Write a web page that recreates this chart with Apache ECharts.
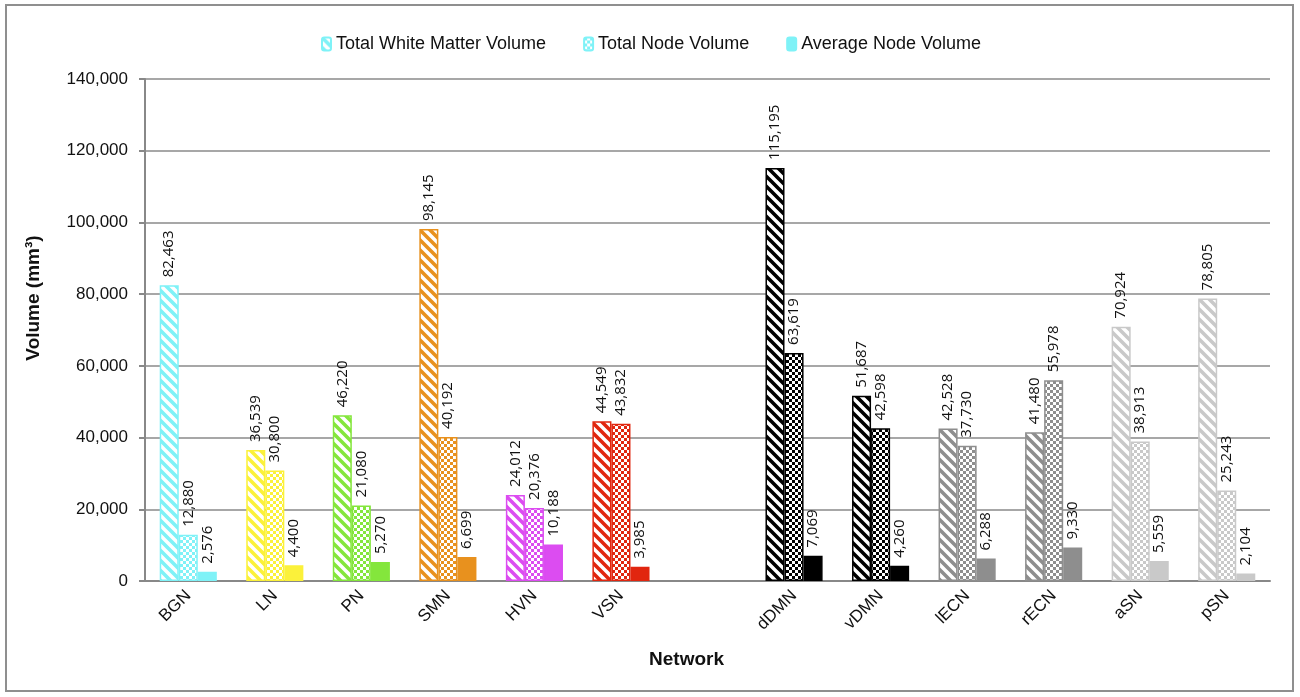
<!DOCTYPE html>
<html>
<head>
<meta charset="utf-8">
<script src="https://cdn.jsdelivr.net/npm/echarts@6/dist/echarts.min.js"></script>
<style>html,body{margin:0;padding:0;background:#fff}#c{width:1300px;height:697px}</style>
</head>
<body>
<div id="c"></div>
<script>
const categories = ['BGN','LN','PN','SMN','HVN','VSN','','dDMN','vDMN','lECN','rECN','aSN','pSN'];
const whiteMatterVolume = [82463,36539,46220,98145,24012,44549,null,115195,51687,42528,41480,70924,78805];
const totalNodeVolume = [12880,30800,21080,40192,20376,43832,null,63619,42598,37730,55978,38913,25243];
const averageNodeVolume = [2576,4400,5270,6699,10188,3985,null,7069,4260,6288,9330,5559,2104];
const seriesNames = ['Total White Matter Volume','Total Node Volume','Average Node Volume'];
const yTicks = [0,20000,40000,60000,80000,100000,120000,140000];
const networkColors = ['#7ff2f7','#fbf13a','#84e63c','#e8911e','#dc4cf1','#e1260f','#ffffff','#000000','#000000','#8e8e8e','#8e8e8e','#c9c9c9','#c9c9c9'];

function stripePattern(color){
  const s = 10, c = document.createElement('canvas');
  c.width = s; c.height = s;
  const g = c.getContext('2d');
  g.fillStyle = '#fff'; g.fillRect(0,0,s,s);
  g.strokeStyle = color; g.lineWidth = 3.6;
  g.beginPath();
  g.moveTo(0,0); g.lineTo(s,s);
  g.moveTo(0,-s); g.lineTo(2*s,s);
  g.moveTo(-s,0); g.lineTo(s,2*s);
  g.stroke();
  return {image: c, repeat: 'repeat'};
}
function checkerPattern(color){
  const q = 3, c = document.createElement('canvas');
  c.width = 2*q; c.height = 2*q;
  const g = c.getContext('2d');
  g.fillStyle = '#fff'; g.fillRect(0,0,2*q,2*q);
  g.fillStyle = color;
  g.fillRect(0,0,q,q); g.fillRect(q,q,q,q);
  return {image: c, repeat: 'repeat'};
}
const makers = [stripePattern, checkerPattern, c => c];
const valuesList = [whiteMatterVolume, totalNodeVolume, averageNodeVolume];

const fmt = v => Number(v).toLocaleString('en-US');

const series = valuesList.map((vals, si) => ({
  name: seriesNames[si],
  type: 'bar',
  barGap: '0%',
  barCategoryGap: '34%',
  itemStyle: {color: makers[si](networkColors[0]), borderColor: networkColors[0], borderWidth: 1.5},
  label: {
    show: true, position: 'top', rotate: 90, align: 'left', verticalAlign: 'middle',
    distance: 6, fontFamily: 'Open Sans', fontSize: 15, color: '#111',
    offset: [2, 0],
    formatter: p => fmt(p.value)
  },
  data: vals.map((v, i) => ({
    value: v,
    itemStyle: {color: makers[si](networkColors[i]), borderColor: networkColors[i], borderWidth: 1.5}
  }))
}));

const chart = echarts.init(document.getElementById('c'), null, {renderer: 'canvas'});
chart.setOption({
  animation: false,
  backgroundColor: '#fff',
  graphic: [{type: 'rect', shape: {x: 6, y: 5, width: 1287, height: 686}, style: {fill: 'none', stroke: '#8f8f8f', lineWidth: 2}, z: -1}],
  legend: {
    top: 30, left: 316, itemWidth: 9, itemHeight: 13, itemGap: 37,
    textStyle: {fontFamily: 'Liberation Sans', fontSize: 18, color: '#111'},
    data: seriesNames
  },
  grid: {left: 145, right: 30, top: 79, bottom: 116},
  xAxis: {
    type: 'category', data: categories,
    name: 'Network', nameLocation: 'middle', nameGap: 69,
    nameTextStyle: {fontFamily: 'Liberation Sans', fontWeight: 'bold', fontSize: 19, color: '#111', padding: [0, 42, 0, 0]},
    axisLine: {lineStyle: {color: '#888', width: 2}},
    axisTick: {show: false},
    axisLabel: {rotate: 45, margin: 12, fontFamily: 'Liberation Sans', fontSize: 17, color: '#111', interval: 0},
  },
  yAxis: {
    type: 'value', min: yTicks[0], max: yTicks[yTicks.length-1], interval: 20000,
    name: 'Volume (mm³)', nameLocation: 'middle', nameGap: 102,
    nameTextStyle: {fontFamily: 'Liberation Sans', fontWeight: 'bold', fontSize: 19, color: '#111', padding: [0, 0, 0, 64]},
    axisLine: {show: true, lineStyle: {color: '#888', width: 2}},
    axisTick: {show: true, length: 6, lineStyle: {color: '#888', width: 2}},
    axisLabel: {margin: 17, fontFamily: 'Liberation Sans', fontSize: 17, color: '#111', formatter: v => fmt(v)},
    splitLine: {lineStyle: {color: '#8a8a8a', width: 1.5}}
  },
  series: series
});
</script>
</body>
</html>
